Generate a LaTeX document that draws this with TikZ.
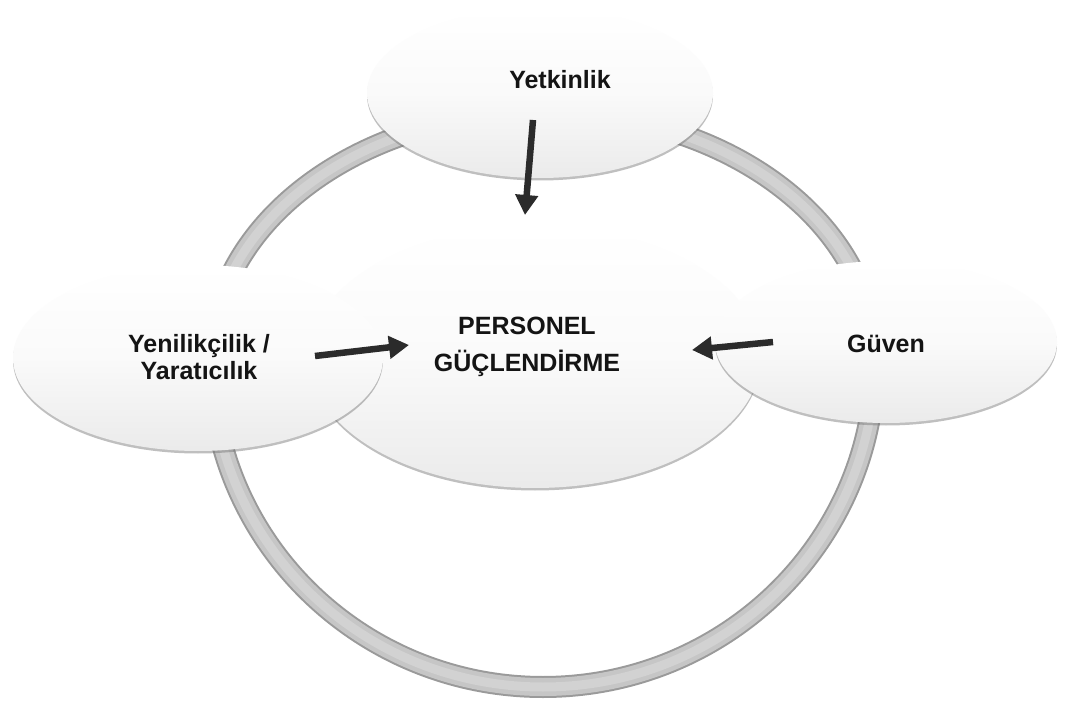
\documentclass[tikz,border=0pt]{standalone}
\usepackage{fontspec}
\setmainfont{Liberation Sans}
\usetikzlibrary{shapes.geometric,shadows,arrows.meta}
\definecolor{arrowgray}{HTML}{2B2B2B}
\definecolor{ringedge}{HTML}{9A9A9A}
\definecolor{ringfill}{HTML}{C6C6C6}
\definecolor{ringlight}{HTML}{D2D2D2}
\begin{document}
\begin{tikzpicture}[x=1pt,y=-1pt,
  bubble/.style={ellipse, inner sep=0pt, top color=white, bottom color=black!8,
     middle color=black!2,
     drop shadow={shadow xshift=0pt, shadow yshift=-2.5pt, opacity=0.45, fill=black!55}},
  lbl/.style={font=\fontsize{25}{37}\selectfont\bfseries, text=black!92, align=center, inner sep=0pt},
  arr/.style={draw=arrowgray, line width=6.5pt, -{Triangle[length=20pt,width=22pt]}, arrowgray}
]
\useasboundingbox[fill=white] (0,0) rectangle (1066,703);
% ring: upper half-ellipse and lower half-ellipse
\coordinate (ringL) at (211,360);
\draw[ringedge, line width=22pt] (ringL)
  arc[start angle=180, end angle=0, x radius=332pt, y radius=248pt]
  arc[start angle=0, end angle=-180, x radius=332pt, y radius=327pt] -- cycle;
\draw[ringfill, line width=18pt] (ringL)
  arc[start angle=180, end angle=0, x radius=332pt, y radius=248pt]
  arc[start angle=0, end angle=-180, x radius=332pt, y radius=327pt] -- cycle;
\draw[ringlight, line width=9pt] (ringL)
  arc[start angle=180, end angle=0, x radius=332pt, y radius=248pt]
  arc[start angle=0, end angle=-180, x radius=332pt, y radius=327pt] -- cycle;
% bubbles
\node[bubble, minimum width=346pt, minimum height=170pt] (top) at (540,93) {};
\node[bubble, minimum width=452pt, minimum height=262pt] (center) at (535,357) {};
\node[bubble, minimum width=370pt, minimum height=186pt] (left) at (198,358) {};
\node[bubble, minimum width=342pt, minimum height=162pt] (right) at (886,342) {};
% labels
\node[lbl, anchor=base] (ttop) at (560,89) {Yetkinlik};
\node[lbl, anchor=base] (tcenter) at (527,372) {PERSONEL\\GÜÇLENDİRME};
\node[lbl, anchor=base, font=\fontsize{25}{26}\selectfont\bfseries] (tleft) at (199,379) {Yenilikçilik /\\Yaratıcılık};
\node[lbl, anchor=base] (tright) at (886,353) {Güven};
% arrows
\coordinate (a1s) at (533,120); \coordinate (a1e) at (525,215);
\coordinate (a2s) at (315,356); \coordinate (a2e) at (409,345);
\coordinate (a3s) at (773,342); \coordinate (a3e) at (692,350);
\draw[arr] (a1s) -- (a1e);
\draw[arr] (a2s) -- (a2e);
\draw[arr] (a3s) -- (a3e);
\end{tikzpicture}
\end{document}
